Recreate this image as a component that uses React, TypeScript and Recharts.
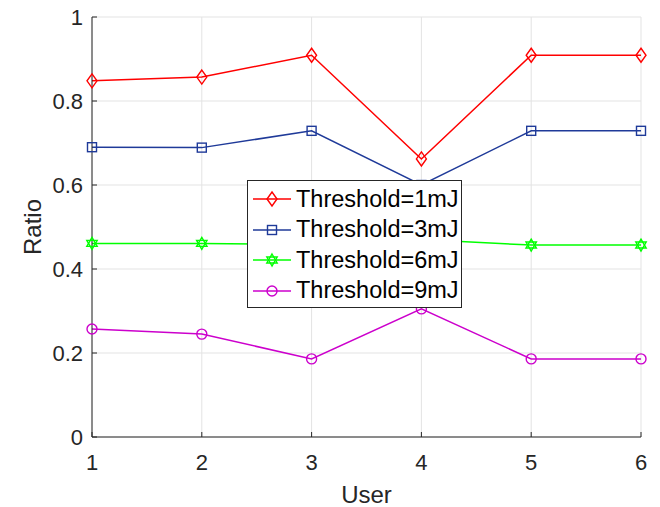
import {
    CartesianGrid,
    Line,
    LineChart,
    XAxis,
    YAxis,
} from "recharts";

const users = [1, 2, 3, 4, 5, 6];
const yTicks = [0, 0.2, 0.4, 0.6, 0.8, 1];

const ratio1mJ = [0.848, 0.857, 0.909, 0.662, 0.909, 0.909];
const ratio3mJ = [0.69, 0.689, 0.729, 0.6, 0.729, 0.729];
const ratio6mJ = [0.461, 0.461, 0.458, 0.47, 0.457, 0.457];
const ratio9mJ = [0.257, 0.245, 0.186, 0.305, 0.186, 0.186];

const seriesNames = ["Threshold=1mJ", "Threshold=3mJ", "Threshold=6mJ", "Threshold=9mJ"];

const data = users.map((u, i) => ({
    user: u,
    t1: ratio1mJ[i],
    t3: ratio3mJ[i],
    t6: ratio6mJ[i],
    t9: ratio9mJ[i],
}));

const FONT = '"Liberation Sans", Arial, Helvetica, sans-serif';
const AXIS = "#262626";

type MarkerKind = "diamond" | "square" | "hexagram" | "circle";

const marker = (kind: MarkerKind, cx: number, cy: number, color: string, key?: string) => {
    const common = { fill: "none", stroke: color, strokeWidth: 1.4 };
    if (kind === "diamond") {
        return <path key={key} d={`M${cx},${cy - 7} L${cx + 5},${cy} L${cx},${cy + 7} L${cx - 5},${cy} Z`} {...common} />;
    }
    if (kind === "square") {
        return <rect key={key} x={cx - 4.5} y={cy - 4.5} width={9} height={9} {...common} />;
    }
    if (kind === "circle") {
        return <circle key={key} cx={cx} cy={cy} r={5} {...common} />;
    }
    // hexagram: two triangles
    const r = 6;
    const tri = (rot: number) =>
        [0, 1, 2]
            .map((k) => {
                const a = ((rot + k * 120 - 90) * Math.PI) / 180;
                return `${cx + r * Math.cos(a)},${cy + r * Math.sin(a)}`;
            })
            .join(" ");
    return (
        <g key={key}>
            <polygon points={tri(0)} {...common} />
            <polygon points={tri(180)} {...common} />
        </g>
    );
};

const series = [
    { key: "t1", name: seriesNames[0], color: "#ff0000", kind: "diamond" as MarkerKind },
    { key: "t3", name: seriesNames[1], color: "#1f3a99", kind: "square" as MarkerKind },
    { key: "t6", name: seriesNames[2], color: "#00ff00", kind: "hexagram" as MarkerKind },
    { key: "t9", name: seriesNames[3], color: "#cc00cc", kind: "circle" as MarkerKind },
];

const LegendBox = () => (
    <div
        style={{
            position: "absolute",
            left: 247,
            top: 180,
            width: 215,
            height: 128,
            boxSizing: "border-box",
            background: "#fff",
            border: "1px solid #262626",
            padding: "3px 0 0 2px",
            fontFamily: FONT,
            fontSize: 23.5,
            color: "#000",
        }}
    >
        {series.map((s) => (
            <div key={s.key} style={{ display: "flex", alignItems: "center", height: 30.5 }}>
                <svg width={44} height={20} style={{ marginRight: 2, flex: "none" }}>
                    <line x1={3} y1={10} x2={41} y2={10} stroke={s.color} strokeWidth={1.5} />
                    {marker(s.kind, 22, 10, s.color)}
                </svg>
                <span style={{ whiteSpace: "nowrap" }}>{s.name}</span>
            </div>
        ))}
    </div>
);

const hiddenTick = () => <g />;

export default function App() {
    return (
        <div style={{ position: "absolute", left: 0, top: 0, width: 660, height: 507, background: "#fff" }}>
            <LineChart
                width={660}
                height={507}
                data={data}
                margin={{ top: 17, right: 19, left: 0, bottom: 0 }}
                style={{ fontFamily: FONT }}
            >
                <CartesianGrid stroke="#e3e3e3" strokeWidth={1} />
                <XAxis
                    dataKey="user"
                    type="number"
                    domain={[1, 6]}
                    ticks={users}
                    height={70}
                    stroke={AXIS}
                    tickSize={-5}
                    tickMargin={22}
                    tick={{ fill: AXIS, fontSize: 22 }}
                    label={{ value: "User", position: "insideBottom", offset: 4, fill: AXIS, fontSize: 24 }}
                />
                <XAxis
                    xAxisId="top"
                    orientation="top"
                    dataKey="user"
                    type="number"
                    domain={[1, 6]}
                    ticks={users}
                    height={0}
                    stroke={AXIS}
                    tickSize={-5}
                    tick={hiddenTick}
                />
                <YAxis
                    type="number"
                    domain={[0, 1]}
                    ticks={yTicks}
                    width={92}
                    stroke={AXIS}
                    tickSize={-5}
                    tickMargin={14}
                    tick={{ fill: AXIS, fontSize: 22 }}
                    tickFormatter={(v: number) => String(v)}
                    label={{
                        value: "Ratio",
                        angle: -90,
                        position: "insideLeft",
                        offset: 32,
                        fill: AXIS,
                        fontSize: 24,
                        style: { textAnchor: "middle" },
                    }}
                />
                <YAxis
                    yAxisId="right"
                    orientation="right"
                    type="number"
                    domain={[0, 1]}
                    ticks={yTicks}
                    width={0}
                    stroke={AXIS}
                    tickSize={-5}
                    tick={hiddenTick}
                />
                {series.map((s) => (
                    <Line
                        key={s.key}
                        dataKey={s.key}
                        name={s.name}
                        stroke={s.color}
                        strokeWidth={1.5}
                        isAnimationActive={false}
                        dot={(p: any) => marker(s.kind, p.cx, p.cy, s.color, `${s.key}-${p.index}`)}
                        activeDot={false}
                    />
                ))}
            </LineChart>
            <LegendBox />
        </div>
    );
}
